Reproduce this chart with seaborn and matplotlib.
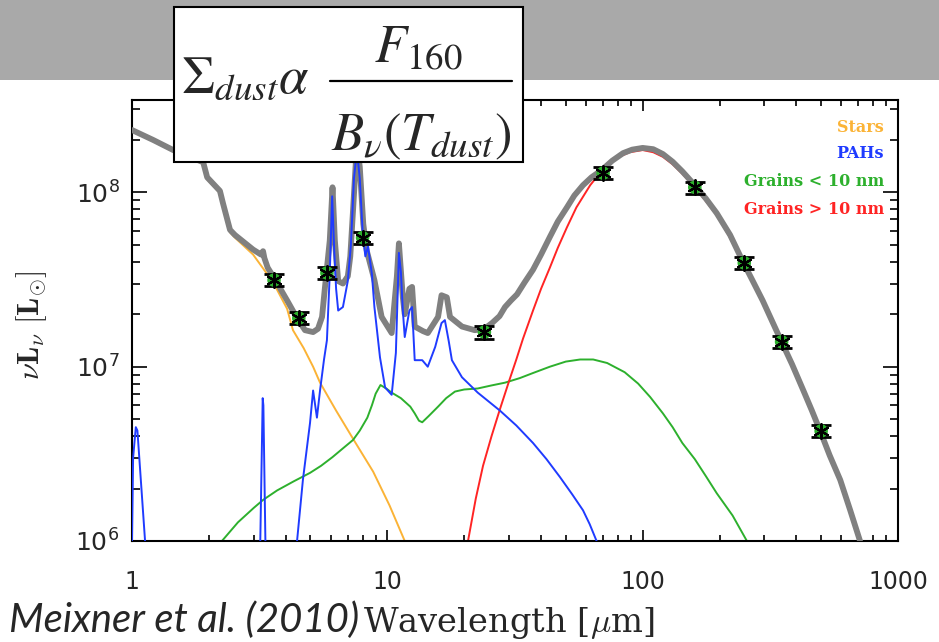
import matplotlib
matplotlib.use("Agg")
import matplotlib.pyplot as plt
import numpy as np
import pandas as pd
import seaborn as sns
from matplotlib.patches import Rectangle
from matplotlib.lines import Line2D
from matplotlib.ticker import LogLocator, NullFormatter, FixedLocator, FixedFormatter

# ---- SED components (wavelength in micron, nu*L_nu in L_sun) ----
wl_total = [1.0, 1.21, 1.45, 1.9, 1.97, 2.21, 2.27, 2.42, 2.53, 2.98,
            3.2, 3.26, 3.3, 3.4, 3.57, 4.05, 4.43, 4.76, 5.12, 5.35,
            5.55, 5.7, 5.95, 6.1, 6.23, 6.42, 6.7, 7.0, 7.16, 7.34,
            7.6, 7.8, 8.05, 8.3, 8.9, 9.5, 10.4, 10.9, 11.1, 11.5,
            11.7, 12.2, 12.5, 12.8, 13.8, 14.4, 15.8, 16.3, 17.1, 17.6,
            19.6, 22.0, 24.0, 25.7, 27.5, 28.9, 30.5, 32.2, 34.5, 37.2,
            40.0, 43.3, 46.5, 50.5, 54.0, 58.4, 63.0, 69.0, 76.0, 83.8,
            91.0, 100.0, 110.0, 120.0, 131.0, 143.0, 160.0, 177.0, 195.0, 220.0,
            247.0, 270.0, 295.0, 320.0, 350.0, 385.0, 426.0, 460.0, 495.0, 540.0,
            594.0, 650.0, 710.0]
total = [2.28e8, 2.0e8, 1.75e8, 1.49e8, 1.22e8, 1.02e8, 8.7e7, 6.1e7, 5.7e7, 4.7e7,
         4.4e7, 4.6e7, 4.2e7, 3.7e7, 3.3e7, 2.4e7, 1.9e7, 1.62e7, 1.58e7, 1.65e7,
         1.93e7, 2.87e7, 5.3e7, 1.07e8, 5.3e7, 3.1e7, 3.0e7, 3.3e7, 4.3e7, 7.9e7,
         1.9e8, 1.4e8, 6.6e7, 4.65e7, 3.14e7, 1.93e7, 1.56e7, 3.3e7, 5.1e7, 2.5e7,
         2.0e7, 2.8e7, 2.87e7, 1.7e7, 1.6e7, 1.56e7, 1.93e7, 2.57e7, 2.5e7, 1.93e7,
         1.7e7, 1.62e7, 1.65e7, 1.78e7, 1.95e7, 2.2e7, 2.4e7, 2.6e7, 3.05e7, 3.6e7,
         4.4e7, 5.55e7, 6.8e7, 8.2e7, 9.6e7, 1.1e8, 1.22e8, 1.34e8, 1.52e8, 1.68e8,
         1.76e8, 1.8e8, 1.77e8, 1.66e8, 1.5e8, 1.32e8, 1.1e8, 9.2e7, 7.6e7, 5.7e7,
         4.0e7, 3.1e7, 2.4e7, 1.85e7, 1.39e7, 1.03e7, 7.3e6, 5.6e6, 4.3e6, 3.1e6,
         2.24e6, 1.5e6, 1.0e6]

wl_stars = [1.0, 1.21, 1.45, 1.9, 1.97, 2.21, 2.27, 2.42, 2.53, 2.98,
            3.57, 4.05, 4.27, 4.7, 5.12, 5.45, 6.3, 7.47, 8.8, 10.2, 11.7]
stars = [2.25e8, 1.97e8, 1.72e8, 1.46e8, 1.19e8, 9.9e7, 8.4e7, 5.9e7, 5.5e7, 4.4e7,
         3.05e7, 2.15e7, 1.62e7, 1.28e7, 1.0e7, 8.1e6, 5.6e6, 3.7e6, 2.5e6, 1.6e6, 1.0e6]

# PAH emission: three separate pieces above the plot floor
wl_pah_1 = [1.0, 1.01, 1.035, 1.05, 1.125]
pah_1 = [1.0e6, 3.0e6, 4.5e6, 4.3e6, 1.0e6]
wl_pah_2 = [3.18, 3.25, 3.27, 3.33]
pah_2 = [1.0e6, 6.6e6, 6.0e6, 1.0e6]
wl_pah_3 = [4.43, 4.67, 4.98, 5.12, 5.3, 5.45, 5.65, 5.8, 5.95, 6.08,
            6.2, 6.3, 6.42, 6.7, 7.0, 7.2, 7.4, 7.6, 7.8, 8.0,
            8.2, 8.4, 8.7, 8.9, 9.36, 9.8, 10.4, 10.8, 11.1, 11.3,
            11.5, 11.7, 12.2, 12.5, 12.8, 13.7, 14.4, 15.4, 16.3, 16.8,
            17.4, 17.9, 19.6, 22.6, 27.6, 32.0, 37.2, 42.0, 47.4, 53.0,
            58.4, 62.0, 66.0]
pah_3 = [1.0e6, 2.24e6, 4.76e6, 7.3e6, 5.1e6, 7.3e6, 1.1e7, 1.42e7, 3.4e7, 9.5e7,
         4.5e7, 2.8e7, 2.1e7, 2.2e7, 3.1e7, 5.0e7, 1.2e8, 1.75e8, 1.2e8, 6.0e7,
         4.3e7, 4.9e7, 3.4e7, 2.2e7, 1.13e7, 7.6e6, 6.9e6, 1.2e7, 4.5e7, 3.5e7,
         2.1e7, 1.48e7, 2.1e7, 2.2e7, 1.09e7, 1.09e7, 1.0e7, 1.3e7, 1.78e7, 1.85e7,
         1.4e7, 1.09e7, 8.7e6, 7.1e6, 5.6e6, 4.6e6, 3.65e6, 2.95e6, 2.33e6, 1.85e6,
         1.5e6, 1.25e6, 1.0e6]

wl_small = [2.25, 2.6, 3.0, 3.26, 3.7, 4.3, 4.98, 5.5, 6.1, 6.7,
            7.34, 7.8, 8.35, 8.7, 9.0, 9.4, 9.9, 10.4, 11.3, 12.3,
            12.8, 13.3, 13.7, 14.5, 15.8, 17.0, 18.4, 20.0, 22.6, 25.5,
            28.9, 33.0, 37.2, 43.3, 50.0, 56.9, 64.0, 72.6, 85.0, 96.0,
            107.0, 120.0, 131.0, 143.0, 160.0, 177.0, 195.0, 225.0, 256.0]
small_grains = [1.0e6, 1.28e6, 1.55e6, 1.72e6, 1.95e6, 2.2e6, 2.46e6, 2.7e6, 3.03e6, 3.4e6,
                3.8e6, 4.3e6, 5.1e6, 6.0e6, 7.0e6, 7.85e6, 7.5e6, 7.1e6, 6.6e6, 5.9e6,
                5.4e6, 4.9e6, 4.8e6, 5.2e6, 5.9e6, 6.6e6, 7.2e6, 7.4e6, 7.5e6, 7.8e6,
                8.1e6, 8.6e6, 9.2e6, 1.0e7, 1.07e7, 1.1e7, 1.1e7, 1.05e7, 9.3e6, 8.0e6,
                6.7e6, 5.4e6, 4.5e6, 3.65e6, 2.95e6, 2.35e6, 1.88e6, 1.4e6, 1.0e6]

wl_large = [20.7, 22.2, 23.7, 25.6, 27.6, 30.0, 32.0, 34.0, 37.2, 40.0,
            43.3, 46.5, 50.5, 55.0, 62.3, 70.0, 79.3, 89.0, 100.0, 110.0,
            120.0, 131.0, 143.0, 160.0, 177.0, 195.0, 220.0, 247.0, 270.0, 295.0,
            320.0, 350.0, 385.0, 426.0, 460.0, 495.0, 540.0, 594.0, 650.0, 710.0]
large_grains = [1.0e6, 1.75e6, 2.7e6, 4.0e6, 5.7e6, 8.3e6, 1.1e7, 1.45e7, 2.1e7, 2.8e7,
                3.7e7, 4.8e7, 6.3e7, 8.2e7, 1.1e8, 1.36e8, 1.58e8, 1.7e8, 1.75e8, 1.7e8,
                1.6e8, 1.45e8, 1.28e8, 1.07e8, 8.9e7, 7.4e7, 5.5e7, 3.9e7, 3.0e7, 2.33e7,
                1.8e7, 1.36e7, 1.0e7, 7.1e6, 5.5e6, 4.2e6, 3.05e6, 2.2e6, 1.48e6, 1.0e6]

# photometry
wl_obs = [3.6, 4.5, 5.8, 8.0, 24.0, 70.0, 160.0, 250.0, 350.0, 500.0]
obs = [3.14e7, 1.9e7, 3.45e7, 5.5e7, 1.58e7, 1.29e8, 1.07e8, 3.94e7, 1.39e7, 4.28e6]
obs_err = [2.5e6, 1.5e6, 2.8e6, 4.4e6, 1.3e6, 1.0e7, 8.5e6, 3.2e6, 1.1e6, 3.4e5]

# axes labelling
x_ticks = [1, 10, 100, 1000]
x_tick_labels = ["1", "10", "100", "1000"]
y_ticks = [1e6, 1e7, 1e8]
y_tick_labels = [r"$\mathregular{10^{6}}$", r"$\mathregular{10^{7}}$", r"$\mathregular{10^{8}}$"]
legend_labels = ["Stars", "PAHs", "Grains < 10 nm", "Grains > 10 nm"]

C_STARS = "#FBB336"
C_PAH = "#1F3BFF"
C_SMALL = "#2DB02D"
C_LARGE = "#FF2424"
C_TOTAL = "#808080"

sns.set_style("ticks")
plt.rcParams["font.family"] = ["DejaVu Sans"]
plt.rcParams["mathtext.fontset"] = "dejavusans"

W, H = 939, 642
fig = plt.figure(figsize=(W / 100, H / 100), dpi=100)
fig.patch.set_facecolor("white")


def fx(px):
    return px / W


def fy(py):
    return 1 - py / H


ax = fig.add_axes([fx(132), fy(541), fx(898 - 132), (541 - 100) / H])
ax.set_xscale("log")
ax.set_yscale("log")

# component curves
sns.lineplot(x=wl_stars, y=stars, ax=ax, color=C_STARS, lw=1.4, zorder=2)
sns.lineplot(x=wl_small, y=small_grains, ax=ax, color=C_SMALL, lw=1.4, zorder=2)
sns.lineplot(x=wl_large, y=large_grains, ax=ax, color=C_LARGE, lw=1.4, zorder=2)
sns.lineplot(x=wl_total, y=total, ax=ax, color=C_TOTAL, lw=4.2, zorder=3)

pah_df = pd.DataFrame({
    "wl": wl_pah_1 + wl_pah_2 + wl_pah_3,
    "val": pah_1 + pah_2 + pah_3,
    "piece": [0] * len(wl_pah_1) + [1] * len(wl_pah_2) + [2] * len(wl_pah_3),
})
sns.lineplot(data=pah_df, x="wl", y="val", units="piece", estimator=None,
             sort=False, ax=ax, color=C_PAH, lw=1.4, zorder=4)

# photometric points
ax.errorbar(wl_obs, obs, yerr=obs_err, fmt="none", ecolor="black",
            elinewidth=1.6, capsize=7, capthick=2.0, zorder=5)
sns.scatterplot(x=wl_obs, y=obs, ax=ax, color=C_SMALL, s=95,
                edgecolor="none", zorder=6)
sns.scatterplot(x=wl_obs, y=obs, ax=ax, color="black", marker=(6, 2, 0),
                s=110, linewidth=1.6, zorder=7)

ax.set_xlim(1, 1000)
ax.set_ylim(1e6, 3.39e8)

ax.xaxis.set_major_locator(FixedLocator(x_ticks))
ax.xaxis.set_major_formatter(FixedFormatter(x_tick_labels))
ax.xaxis.set_minor_locator(LogLocator(base=10, subs=np.arange(2, 10)))
ax.xaxis.set_minor_formatter(NullFormatter())
ax.yaxis.set_major_locator(FixedLocator(y_ticks))
ax.yaxis.set_major_formatter(FixedFormatter(y_tick_labels))
ax.yaxis.set_minor_locator(LogLocator(base=10, subs=np.arange(2, 10)))
ax.yaxis.set_minor_formatter(NullFormatter())

ax.tick_params(which="both", direction="in", top=True, right=True,
               color="black", width=1.2)
ax.tick_params(axis="x", which="major", length=8, pad=21, labelsize=17)
ax.tick_params(axis="x", which="minor", length=4)
ax.tick_params(axis="y", which="major", length=11, pad=9, labelsize=18)
ax.tick_params(axis="y", which="minor", length=5.5)
for sp in ax.spines.values():
    sp.set_linewidth(1.5)
    sp.set_color("black")
ax.set_xlabel("")
ax.set_ylabel("")

# component names, right aligned in the upper right corner
legend_colors = [C_STARS, C_PAH, C_SMALL, C_LARGE]
legend_y = [128, 153, 181, 209]
for lab, col, yy in zip(legend_labels, legend_colors, legend_y):
    fig.text(fx(884), fy(yy), lab, color=col, ha="right", va="center",
             family="DejaVu Serif", fontweight="bold", fontsize=11.5)

# axis titles
fig.text(fx(32), fy(325), r"$\nu\mathbf{L}_{\nu}\ [\mathbf{L}_{\odot}]$",
         rotation=90, ha="center", va="center", fontsize=22, math_fontfamily="cm")
xl = fig.text(fx(363), fy(632), r"Wavelength [$\mu$m]", ha="left", va="baseline",
              family="DejaVu Serif", fontsize=21, math_fontfamily="cm")
cite = fig.text(fx(9), fy(632), "Meixner et al. (2010)", ha="left", va="baseline",
                family="Lato", style="italic", fontsize=26)

# grey header band and the formula box
fig.add_artist(Rectangle((0, fy(80)), 1, 80 / H, transform=fig.transFigure,
                         facecolor="#a9a9a9", edgecolor="none", zorder=-1))
fig.add_artist(Rectangle((fx(174), fy(162)), fx(523 - 174), (162 - 7) / H,
                         transform=fig.transFigure, facecolor="white",
                         edgecolor="black", lw=1.5, zorder=10))
fig.text(fx(181), fy(93), r"$\Sigma_{dust}\alpha$", ha="left", va="baseline",
         fontsize=38, math_fontfamily="stix", zorder=11)
fig.text(fx(418), fy(62), r"$F_{160}$", ha="center", va="baseline",
         fontsize=38, math_fontfamily="stix", zorder=11)
fig.add_artist(Line2D([fx(330), fx(512)], [fy(81), fy(81)], transform=fig.transFigure,
                      color="black", lw=1.6, zorder=11))
fig.text(fx(421), fy(150), r"$B_{\nu}(T_{dust})$", ha="center", va="baseline",
         fontsize=38, math_fontfamily="stix", zorder=11)

# fit the two bottom captions to their widths
fig.canvas.draw()
for t, target in ((cite, 351), (xl, 292)):
    w = t.get_window_extent().width
    t.set_fontsize(t.get_fontsize() * target / w)

fig.savefig("out.png", dpi=100, facecolor="white")
